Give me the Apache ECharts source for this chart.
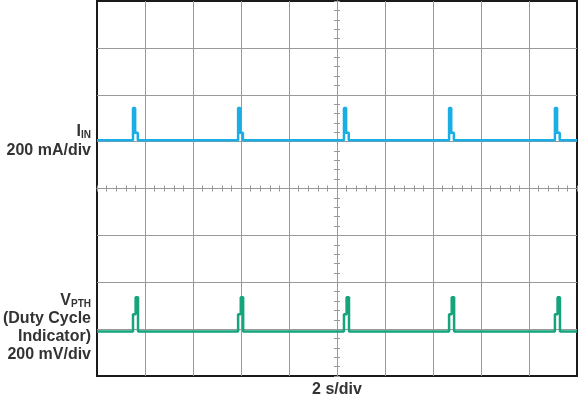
<!DOCTYPE html>
<html>
<head>
<meta charset="utf-8">
<script src="https://cdn.jsdelivr.net/npm/echarts@6/dist/echarts.min.js"></script>
<style>
  html, body { margin: 0; padding: 0; background: #fff; }
  #chart { width: 580px; height: 397px; }
</style>
</head>
<body>
<div id="chart"></div>
<script>
// scope trace: 2 s/div horizontally, 8 divisions vertically (0 = bottom line)
var spikeStart = [1.50, 5.88, 10.29, 14.67, 19.08];   // seconds

// I_IN trace (in divisions)
var iinBase = 5.03, iinPeak = 5.72, iinShoulder = 5.19;
var iinPulseT = [0, 0, 0.09, 0.09, 0.20, 0.20];
var iinPulseV = [iinBase, iinPeak, iinPeak, iinShoulder, iinShoulder, iinBase];

// V_PTH trace (in divisions)
var vpthBase = 0.95, vpthStep = 1.32, vpthPeak = 1.68;
var vpthPulseT = [0, 0, 0.11, 0.11, 0.21, 0.21];
var vpthPulseV = [vpthBase, vpthStep, vpthStep, vpthPeak, vpthPeak, vpthBase];

var xMax = 20, yMax = 8;
var labelFont = 'bold 16px "Liberation Sans", Arial, sans-serif';
var subFont = 'bold 10px "Liberation Sans", Arial, sans-serif';
var txtColor = '#333';

//把脉冲拼成折线
function buildTrace(base, pt, pv)
{
    var d = [[0, base]];
    for (var i = 0; i < spikeStart.length; i++)
    {
        for (var j = 0; j < pt.length; j++)
        {
            d.push([spikeStart[i] + pt[j], pv[j]]);
        }
    }
    d.push([xMax, base]);
    return d;
}

var myChart = echarts.init(document.getElementById('chart'));
var gridBox = {left: 97, right: 3, top: 1, bottom: 21, outerBoundsMode: 'none', containLabel: false};

function centerX(idx, inside)
{
    return {
        type: 'value', gridIndex: idx, min: -10, max: 10, interval: 0.4,
        axisLine: {show: true, onZero: true, lineStyle: {color: '#999', width: 1}},
        axisTick: {show: true, inside: inside, length: 3, lineStyle: {color: '#999'}},
        axisLabel: {show: false}, splitLine: {show: false}
    };
}
function centerY(idx, inside)
{
    return {
        type: 'value', gridIndex: idx, min: -4, max: 4, interval: 0.2,
        axisLine: {show: true, onZero: true, lineStyle: {color: '#999', width: 1}},
        axisTick: {show: true, inside: inside, length: 3, lineStyle: {color: '#999'}},
        axisLabel: {show: false}, splitLine: {show: false}
    };
}

option = {
    animation: false,
    grid: [
        Object.assign({show: true, borderColor: '#1a1a1a', borderWidth: 2, backgroundColor: '#fff'}, gridBox),
        Object.assign({show: false}, gridBox),
        Object.assign({show: false}, gridBox)
    ],
    xAxis: [
        {
            type: 'value', gridIndex: 0, min: 0, max: xMax, interval: 2,
            axisLine: {show: false}, axisTick: {show: false}, axisLabel: {show: false},
            splitLine: {show: true, showMinLine: false, showMaxLine: false, lineStyle: {color: '#999', width: 1}},
            name: '2 s/div', nameLocation: 'middle', nameGap: 6,
            nameTextStyle: {color: txtColor, fontSize: 16, fontWeight: 'bold', fontFamily: '"Liberation Sans", Arial, sans-serif'}
        },
        centerX(1, false),
        centerX(2, true)
    ],
    yAxis: [
        {
            type: 'value', gridIndex: 0, min: 0, max: yMax, interval: 1,
            axisLine: {show: false}, axisTick: {show: false}, axisLabel: {show: false},
            splitLine: {show: true, showMinLine: false, showMaxLine: false, lineStyle: {color: '#999', width: 1}}
        },
        centerY(1, false),
        centerY(2, true)
    ],
    series: [
        {
            name: 'IIN', type: 'line', xAxisIndex: 0, yAxisIndex: 0,
            showSymbol: false, symbol: 'none',
            lineStyle: {color: '#1aaee5', width: 2.5},
            data: buildTrace(iinBase, iinPulseT, iinPulseV)
        },
        {
            name: 'VPTH', type: 'line', xAxisIndex: 0, yAxisIndex: 0,
            showSymbol: false, symbol: 'none',
            lineStyle: {color: '#15a47b', width: 2.5},
            data: buildTrace(vpthBase, vpthPulseT, vpthPulseV)
        }
    ],
    graphic: [
        {type: 'text', x: 91, y: 132, style: {
            text: '{m|I}{s|IN}', align: 'right', verticalAlign: 'middle', fill: txtColor,
            rich: {m: {font: labelFont, fill: txtColor}, s: {font: subFont, fill: txtColor, verticalAlign: 'bottom'}}}},
        {type: 'text', x: 91, y: 151, style: {text: '200 mA/div', align: 'right', verticalAlign: 'middle', font: labelFont, fill: txtColor}},
        {type: 'text', x: 91, y: 301, style: {
            text: '{m|V}{s|PTH}', align: 'right', verticalAlign: 'middle', fill: txtColor,
            rich: {m: {font: labelFont, fill: txtColor}, s: {font: subFont, fill: txtColor, verticalAlign: 'bottom'}}}},
        {type: 'text', x: 91, y: 319, style: {text: '(Duty Cycle', align: 'right', verticalAlign: 'middle', font: labelFont, fill: txtColor}},
        {type: 'text', x: 91, y: 337, style: {text: 'Indicator)', align: 'right', verticalAlign: 'middle', font: labelFont, fill: txtColor}},
        {type: 'text', x: 91, y: 355, style: {text: '200 mV/div', align: 'right', verticalAlign: 'middle', font: labelFont, fill: txtColor}}
    ]
};
myChart.setOption(option);
</script>
</body>
</html>
